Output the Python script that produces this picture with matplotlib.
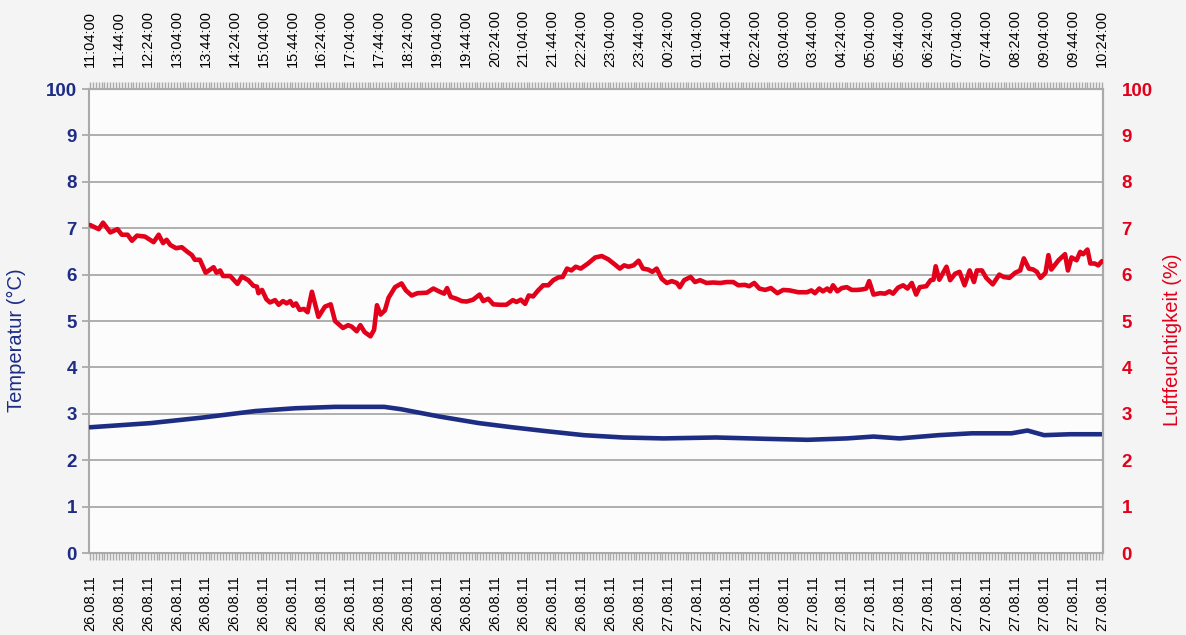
import matplotlib
matplotlib.use("Agg")
import matplotlib.pyplot as plt
from matplotlib.ticker import MultipleLocator, FixedLocator

plt.rcParams['font.family'] = ['Liberation Sans Narrow', 'Liberation Sans', 'DejaVu Sans']

# minutes after 26.08.11 11:04
red_t = [0, 12, 18, 28, 38, 44, 52, 58, 65, 76, 88, 95, 101, 106, 111, 119, 127, 134,
         141, 145, 152, 160, 171, 175, 180, 184, 194, 204, 210, 219, 226, 231, 233, 238,
         244, 249, 256, 261, 267, 272, 277, 281, 285, 290, 296, 301, 307, 316, 325, 333,
         339, 350, 357, 362, 369, 374, 380, 388, 393, 397, 402, 408, 413, 422, 431, 437,
         445, 453, 466, 475, 484, 490, 494, 499, 507, 514, 521, 530, 539, 544, 551, 558,
         567, 576, 585, 590, 596, 602, 607, 613, 620, 627, 634, 641, 648, 654, 660, 666,
         672, 679, 689, 699, 708, 717, 726, 733, 739, 745, 752, 759, 765, 772, 778, 784,
         791, 798, 805, 812, 816, 822, 831, 837, 844, 853, 862, 872, 881, 890, 897, 906,
         912, 919, 926, 934, 942, 951, 959, 968, 980, 992, 998, 1003, 1009, 1014, 1020,
         1024, 1028, 1034, 1040, 1047, 1054, 1061, 1068, 1074, 1078, 1084, 1093, 1100,
         1106, 1111, 1118, 1125, 1131, 1137, 1143, 1148, 1157, 1163, 1167, 1170, 1175,
         1181, 1185, 1190, 1197, 1203, 1210, 1217, 1223, 1227, 1234, 1240, 1249, 1258,
         1264, 1272, 1280, 1287, 1292, 1299, 1305, 1310, 1315, 1322, 1326, 1330, 1340,
         1349, 1353, 1358, 1365, 1370, 1374, 1380, 1384, 1390, 1395, 1400]
red_v = [7.07, 6.98, 7.12, 6.91, 6.98, 6.86, 6.86, 6.73, 6.84, 6.82, 6.70, 6.86, 6.68,
         6.75, 6.64, 6.57, 6.59, 6.50, 6.42, 6.32, 6.32, 6.04, 6.16, 6.04, 6.09, 5.97,
         5.97, 5.80, 5.96, 5.88, 5.76, 5.74, 5.60, 5.67, 5.47, 5.40, 5.45, 5.35, 5.43,
         5.38, 5.43, 5.33, 5.38, 5.24, 5.26, 5.19, 5.63, 5.09, 5.31, 5.36, 5.00, 4.85,
         4.91, 4.88, 4.78, 4.91, 4.76, 4.67, 4.81, 5.34, 5.14, 5.23, 5.50, 5.73, 5.81,
         5.66, 5.55, 5.60, 5.61, 5.70, 5.63, 5.59, 5.71, 5.52, 5.48, 5.43, 5.42, 5.46,
         5.57, 5.43, 5.48, 5.36, 5.35, 5.35, 5.45, 5.41, 5.46, 5.37, 5.55, 5.53, 5.66,
         5.77, 5.77, 5.88, 5.94, 5.95, 6.13, 6.09, 6.17, 6.13, 6.24, 6.37, 6.40, 6.33,
         6.22, 6.13, 6.20, 6.17, 6.20, 6.30, 6.13, 6.11, 6.06, 6.13, 5.91, 5.82, 5.86,
         5.82, 5.73, 5.88, 5.95, 5.84, 5.88, 5.82, 5.83, 5.82, 5.84, 5.84, 5.77, 5.78,
         5.75, 5.82, 5.70, 5.67, 5.71, 5.60, 5.67, 5.66, 5.62, 5.62, 5.66, 5.60, 5.70,
         5.64, 5.70, 5.64, 5.77, 5.64, 5.71, 5.73, 5.67, 5.67, 5.68, 5.70, 5.86, 5.57,
         5.60, 5.59, 5.64, 5.59, 5.72, 5.77, 5.70, 5.82, 5.57, 5.73, 5.75, 5.88, 5.89,
         6.18, 5.89, 6.06, 6.17, 5.88, 6.02, 6.06, 5.77, 6.09, 5.84, 6.09, 6.09, 5.93,
         5.79, 6.00, 5.95, 5.93, 6.04, 6.09, 6.35, 6.13, 6.11, 6.06, 5.93, 6.04, 6.42,
         6.11, 6.31, 6.44, 6.09, 6.37, 6.31, 6.49, 6.44, 6.54, 6.24, 6.24, 6.20, 6.29]

blue_t = [0, 84, 156, 229, 284, 339, 407, 430, 484, 538, 584, 629, 683, 738, 793, 866,
          938, 993, 1047, 1084, 1120, 1174, 1220, 1275, 1297, 1320, 1356, 1400]
blue_v = [2.71, 2.80, 2.92, 3.06, 3.12, 3.15, 3.15, 3.10, 2.94, 2.80, 2.71, 2.63, 2.54,
          2.49, 2.47, 2.49, 2.46, 2.44, 2.47, 2.51, 2.47, 2.54, 2.58, 2.58, 2.64, 2.54,
          2.56, 2.56]

time_labels = ['11:04:00', '11:44:00', '12:24:00', '13:04:00', '13:44:00', '14:24:00',
               '15:04:00', '15:44:00', '16:24:00', '17:04:00', '17:44:00', '18:24:00',
               '19:04:00', '19:44:00', '20:24:00', '21:04:00', '21:44:00', '22:24:00',
               '23:04:00', '23:44:00', '00:24:00', '01:04:00', '01:44:00', '02:24:00',
               '03:04:00', '03:44:00', '04:24:00', '05:04:00', '05:44:00', '06:24:00',
               '07:04:00', '07:44:00', '08:24:00', '09:04:00', '09:44:00', '10:24:00']
date_labels = ['26.08.11'] * 20 + ['27.08.11'] * 16
y_labels = ['0', '1', '2', '3', '4', '5', '6', '7', '8', '9', '100']

BLUE = '#1d2d84'
RED = '#e2001a'
GREY = '#aaaaaa'

fig = plt.figure(figsize=(11.86, 6.35), dpi=100, facecolor='#f4f4f4')
ax = fig.add_axes([0.0753, 0.1291, 0.8550, 0.7307])
ax.set_facecolor('#fcfcfc')

ax.plot(blue_t, blue_v, color=BLUE, linewidth=3.3, solid_capstyle='round', zorder=3)

ax.set_xlim(-1, 1402)
ax.set_ylim(0, 10)
ax.set_yticks(range(len(y_labels)))
ax.set_yticklabels(y_labels)
ax.grid(axis='y', color=GREY, linewidth=1.3)
ax.set_axisbelow(True)

tick_pos = [40 * i for i in range(len(time_labels))]
ax.xaxis.set_major_locator(FixedLocator(tick_pos))
ax.xaxis.set_minor_locator(MultipleLocator(4))
ax.set_xticklabels(date_labels, rotation=90)
ax.tick_params(axis='x', which='both', length=5, width=1, color=GREY, pad=11,
               labelsize=10.5, labelcolor='black')
ax.tick_params(axis='y', length=5, width=1.3, color=GREY, pad=4, labelsize=13.5,
               labelcolor=BLUE)
for lbl in ax.get_yticklabels():
    lbl.set_fontweight('bold')

top = ax.secondary_xaxis('top')
top.xaxis.set_major_locator(FixedLocator(tick_pos))
top.xaxis.set_minor_locator(MultipleLocator(4))
top.set_xticklabels(time_labels, rotation=90)
top.tick_params(axis='x', which='both', length=5, width=1, color=GREY, pad=11,
                labelsize=10.5, labelcolor='black')
top.spines['top'].set_color(GREY)

for s in ax.spines.values():
    s.set_color(GREY)
    s.set_linewidth(1.5)

ax.set_ylabel('Temperatur (°C)', color=BLUE, fontsize=14.5)
ax.yaxis.set_label_coords(-0.0624, 0.459)

ax2 = ax.twinx()
ax2.plot(red_t, red_v, color=RED, linewidth=3.3, solid_capstyle='round', zorder=3)
ax2.set_ylim(0, 10)
ax2.set_yticks(range(len(y_labels)))
ax2.set_yticklabels(y_labels)
ax2.tick_params(axis='y', length=0, pad=13, labelsize=13.5, labelcolor=RED)
for lbl in ax2.get_yticklabels():
    lbl.set_fontweight('bold')
ax2.spines['right'].set_color(GREY)
ax2.spines['right'].set_linewidth(1.5)
for s in ['top', 'bottom', 'left']:
    ax2.spines[s].set_visible(False)
ax2.set_ylabel('Luftfeuchtigkeit (%)', color=RED, fontsize=14.5)
ax2.yaxis.set_label_coords(1.0589, 0.459)

fig.savefig('out.png', dpi=100, facecolor=fig.get_facecolor())
